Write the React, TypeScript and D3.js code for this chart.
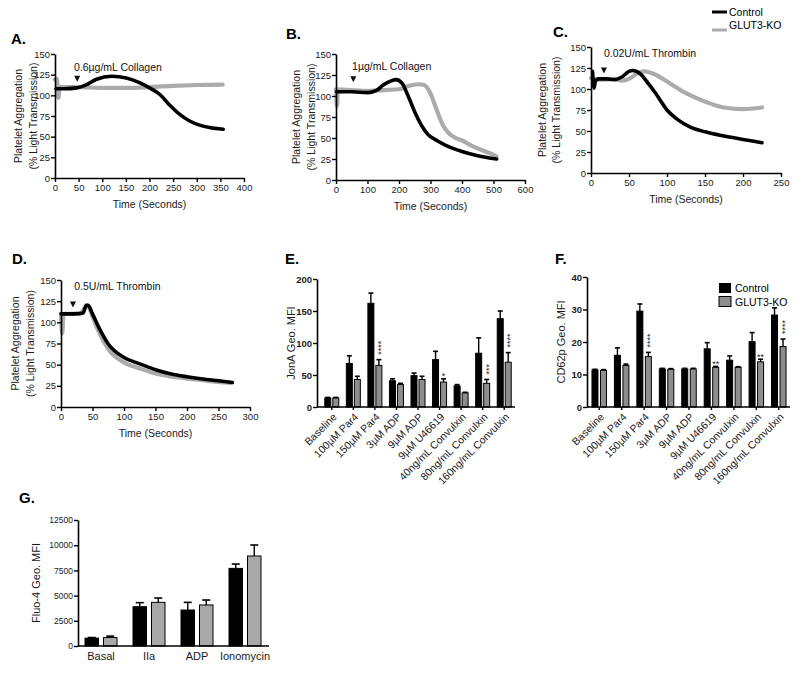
import React, { useEffect, useRef } from 'react';
import * as d3 from 'd3';

const FONT = "'Liberation Sans', Arial, Helvetica, sans-serif";
const LINE_GRAY = '#ababab';
const BAR_GRAY = '#8e8e8e';
const BAR_GRAY_G = '#a8a8a8';

type Pt = [number, number];

// aggregation traces: [seconds, % light transmission]
const aControl: Pt[] = [[2, 108], [20, 108], [46, 109], [67, 113], [88, 119.5], [120, 123], [151, 121], [180, 115], [200, 109], [222, 101], [243, 88], [264, 77], [285, 69], [306, 64], [327, 61], [356, 59]];
const aKO: Pt[] = [[0, 119], [4, 120], [7, 97], [10, 110], [50, 110], [100, 109], [150, 109], [200, 110], [250, 111.5], [300, 112.5], [355, 113]];

const bControl: Pt[] = [[2, 105], [50, 105], [100, 104], [130, 107], [150, 113], [175, 118], [190, 119.5], [210, 115], [230, 99], [250, 81], [270, 66], [290, 55], [320, 47], [350, 41], [400, 34], [450, 29], [510, 25]];
const bKO: Pt[] = [[0, 108], [3, 88], [6, 108], [50, 107], [100, 106], [150, 107], [200, 108], [230, 112], [260, 114], [280, 113], [300, 103], [320, 83], [340, 65], [360, 55], [380, 50], [400, 47], [430, 41], [460, 36], [500, 30], [510, 28]];

const cControl: Pt[] = [[2, 121], [4, 101], [6, 110], [10, 112], [20, 112], [30, 111], [40, 114], [50, 121], [55, 122], [65, 118], [75, 107], [85, 95], [100, 75], [115, 63], [130, 55], [150, 49], [175, 44], [200, 40], [225, 36]];
const cKO: Pt[] = [[0, 113], [10, 111], [30, 112], [40, 110], [50, 112], [60, 118], [70, 121], [85, 117], [100, 109], [125, 95], [150, 85], [175, 78], [200, 76], [225, 78]];

const dControl: Pt[] = [[0, 110], [20, 110], [35, 111], [40, 120], [43, 120], [50, 110], [60, 94], [75, 74.5], [100, 58.5], [125, 51], [150, 44], [175, 39], [200, 35.7], [225, 33], [250, 31], [272, 29]];
const dKO: Pt[] = [[0, 110], [2, 87], [4, 110], [30, 110], [38, 117], [42, 120], [50, 107], [60, 89], [75, 68.5], [100, 52.6], [125, 45.5], [150, 39.5], [175, 36], [200, 33.6], [225, 31.6], [250, 29.6], [270, 28.5]];

const agonistLabels = ['0.6µg/mL Collagen', '1µg/mL Collagen', '0.02U/mL Thrombin', '0.5U/mL Thrombin'];

// flow cytometry
const flowCategories = ['Baseline', '100µM Par4', '150µM Par4', '3µM ADP', '9µM ADP', '9µM U46619', '40ng/mL Convulxin', '80ng/mL Convulxin', '160ng/mL Convulxin'];
const jonAControl = [14, 68, 162, 41, 49, 74, 33, 84, 138];
const jonAControlErr = [1, 12, 16, 3, 4, 13, 2, 24, 12];
const jonAKO = [14, 43, 65, 35, 43, 39, 22, 37, 70];
const jonAKOErr = [1, 5, 9, 2, 5, 5, 1, 6, 15];
const jonAStars = ['', '', '****', '', '', '*', '', '***', '****'];

const cd62pControl = [11.4, 15.9, 29.5, 11.7, 11.7, 17.9, 14.4, 20.1, 28.3];
const cd62pControlErr = [0.2, 2.3, 2.2, 0.2, 0.2, 1.9, 1.3, 2.8, 2.2];
const cd62pKO = [11.3, 12.8, 15.5, 11.6, 11.7, 12.2, 12.2, 13.9, 18.6];
const cd62pKOErr = [0.2, 0.4, 1.3, 0.2, 0.2, 0.3, 0.2, 0.8, 2.3];
const cd62pStars = ['', '', '****', '', '', '**', '', '**', '****'];

const fluoCategories = ['Basal', 'IIa', 'ADP', 'Ionomycin'];
const fluoControl = [780, 3900, 3570, 7700];
const fluoControlErr = [60, 400, 760, 430];
const fluoKO = [840, 4330, 4070, 8930];
const fluoKOErr = [140, 430, 490, 1090];

const styleAxis = (g, size, bold = false) => {
  g.attr('font-family', FONT).attr('font-size', size);
  g.select('.domain').attr('stroke', '#000').attr('stroke-width', 1.6);
  g.selectAll('.tick line').attr('stroke', '#000').attr('stroke-width', 1.4);
  g.selectAll('.tick text').attr('fill', '#1a1a1a').attr('font-weight', bold ? 'bold' : 'normal');
};

const drawLinePanel = (svg, p) => {
  const x = d3.scaleLinear().domain([0, p.xMax]).range(p.xRange);
  const y = d3.scaleLinear().domain([0, 150]).range(p.yRange);
  const g = svg.append('g');

  const line = d3.line<Pt>().x(d => x(d[0])).y(d => y(d[1])).curve(d3.curveMonotoneX);
  g.append('path').datum(p.ko).attr('fill', 'none').attr('stroke', LINE_GRAY)
    .attr('stroke-width', 4.2).attr('stroke-linecap', 'round').attr('stroke-linejoin', 'round').attr('d', line);
  g.append('path').datum(p.control).attr('fill', 'none').attr('stroke', '#000')
    .attr('stroke-width', 3.6).attr('stroke-linecap', 'round').attr('stroke-linejoin', 'round').attr('d', line);

  const ya = g.append('g').attr('transform', `translate(${p.xRange[0]},0)`)
    .call(d3.axisLeft(y).tickValues(d3.range(0, 151, 25)).tickSize(4).tickSizeOuter(0).tickPadding(1));
  styleAxis(ya, 9.5);
  const xa = g.append('g').attr('transform', `translate(0,${p.yRange[0]})`)
    .call(d3.axisBottom(x).tickValues(d3.range(0, p.xMax + 1, p.xStep)).tickSize(4).tickSizeOuter(0).tickPadding(2));
  styleAxis(xa, 9.5);

  // addition arrow + agonist label
  const ax = x(p.arrow[0]), ay = y(p.arrow[1]);
  g.append('path').attr('d', `M${ax - 3},${ay - 3} L${ax + 3},${ay - 3} L${ax},${ay + 3} Z`).attr('fill', '#111');
  g.append('text').attr('x', x(p.note[0])).attr('y', y(p.note[1]))
    .attr('font-family', FONT).attr('font-size', 10.5).attr('fill', '#111').text(p.label);

  g.append('text').attr('x', p.letter[0]).attr('y', p.letter[1])
    .attr('font-family', FONT).attr('font-size', 15).attr('font-weight', 'bold').text(p.name);

  const cy = (p.yRange[0] + p.yRange[1]) / 2;
  ['Platelet Aggregation', '(% Light Transmission)'].forEach((t, i) => {
    g.append('text').attr('transform', `translate(${p.yLabelX[i]},${cy}) rotate(-90)`)
      .attr('text-anchor', 'middle').attr('dominant-baseline', 'central')
      .attr('font-family', FONT).attr('font-size', 10.5).attr('fill', '#1a1a1a').text(t);
  });
  g.append('text').attr('x', (p.xRange[0] + p.xRange[1]) / 2).attr('y', p.yRange[0] + 30)
    .attr('text-anchor', 'middle').attr('font-family', FONT).attr('font-size', 10.5).attr('fill', '#1a1a1a')
    .text('Time (Seconds)');
};

const drawBarPanel = (svg, p) => {
  const g = svg.append('g');
  const x = d3.scaleBand().domain(p.categories).range(p.xRange);
  const y = d3.scaleLinear().domain([0, p.yMax]).range(p.yRange);
  const c = d => x(d) + x.bandwidth() / 2;
  const series = [
    { vals: p.control, errs: p.controlErr, fill: '#000', off: -p.gap / 2 - p.barW },
    { vals: p.ko, errs: p.koErr, fill: p.gray, off: p.gap / 2 }
  ];
  series.forEach(s => {
    p.categories.forEach((cat, i) => {
      const bx = c(cat) + s.off;
      const mid = bx + p.barW / 2;
      g.append('line').attr('x1', mid).attr('x2', mid).attr('y1', y(s.vals[i])).attr('y2', y(s.vals[i] + s.errs[i]))
        .attr('stroke', '#000').attr('stroke-width', 1.4);
      g.append('line').attr('x1', mid - p.cap / 2).attr('x2', mid + p.cap / 2)
        .attr('y1', y(s.vals[i] + s.errs[i])).attr('y2', y(s.vals[i] + s.errs[i]))
        .attr('stroke', '#000').attr('stroke-width', 1.6);
      g.append('rect').attr('x', bx).attr('y', y(s.vals[i])).attr('width', p.barW)
        .attr('height', y(0) - y(s.vals[i])).attr('fill', s.fill).attr('stroke', '#000').attr('stroke-width', 1);
    });
  });

  if (p.stars) {
    p.stars.forEach((st, i) => {
      if (!st) return;
      const mid = c(p.categories[i]) + p.gap / 2 + p.barW / 2;
      const top = y(p.ko[i] + p.koErr[i]) - 5;
      if (st.length >= 3) {
        g.append('text').attr('transform', `translate(${mid},${top}) rotate(-90)`).attr('dy', '0.55em')
          .attr('font-family', FONT).attr('font-size', 9).attr('fill', '#222').text(st);
      } else {
        g.append('text').attr('x', mid).attr('y', top + 5.5).attr('text-anchor', 'middle')
          .attr('font-family', FONT).attr('font-size', 9).attr('fill', '#222').text(st);
      }
    });
  }

  const ya = g.append('g').attr('transform', `translate(${p.axisX},0)`)
    .call(d3.axisLeft(y).tickValues(p.yTicks).tickSize(4).tickSizeOuter(0).tickPadding(1).tickFormat(d3.format('d')));
  styleAxis(ya, p.yTickFont, p.boldTicks);
  g.append('line').attr('x1', p.axisX).attr('x2', p.xRange[1]).attr('y1', y(0)).attr('y2', y(0))
    .attr('stroke', '#000').attr('stroke-width', 1.6);

  const xa = g.append('g').attr('transform', `translate(0,${y(0)})`)
    .call(d3.axisBottom(x).tickSize(p.rotate ? 3 : 0).tickSizeOuter(0).tickPadding(6));
  styleAxis(xa, p.catFont);
  xa.select('.domain').remove();
  if (p.rotate) {
    xa.selectAll('.tick text').attr('x', 0).attr('y', 0).attr('dy', '0.35em')
      .attr('transform', 'translate(3,8) rotate(-45)').attr('text-anchor', 'end');
  }

  g.append('text').attr('x', p.letter[0]).attr('y', p.letter[1])
    .attr('font-family', FONT).attr('font-size', 15).attr('font-weight', 'bold').text(p.name);
  g.append('text').attr('transform', `translate(${p.yLabelX},${(p.yRange[0] + p.yRange[1]) / 2}) rotate(-90)`)
    .attr('text-anchor', 'middle').attr('dominant-baseline', 'central')
    .attr('font-family', FONT).attr('font-size', 11).attr('fill', '#1a1a1a').text(p.yLabel);
};

const App = () => {
  const svgRef = useRef(null);

  useEffect(() => {
    const svg = d3.select(svgRef.current);
    svg.selectAll('*').remove();

    drawLinePanel(svg, { name: 'A.', letter: [11, 44], xMax: 400, xStep: 50, xRange: [55, 244], yRange: [178, 54],
      control: aControl, ko: aKO, label: agonistLabels[0], arrow: [47, 120], note: [40, 129], yLabelX: [18, 33] });
    drawLinePanel(svg, { name: 'B.', letter: [286, 39], xMax: 600, xStep: 100, xRange: [336, 525], yRange: [180, 54],
      control: bControl, ko: bKO, label: agonistLabels[1], arrow: [55, 120], note: [51, 131], yLabelX: [296, 311] });
    drawLinePanel(svg, { name: 'C.', letter: [553, 37], xMax: 250, xStep: 50, xRange: [591, 781], yRange: [173, 47],
      control: cControl, ko: cKO, label: agonistLabels[2], arrow: [17, 122], note: [17, 138], yLabelX: [542, 556] });
    drawLinePanel(svg, { name: 'D.', letter: [12, 264], xMax: 300, xStep: 50, xRange: [61, 250], yRange: [407, 280],
      control: dControl, ko: dKO, label: agonistLabels[3], arrow: [19, 121], note: [21, 138], yLabelX: [15, 30] });

    // legend for the traces
    const lg = svg.append('g').attr('font-family', FONT).attr('font-size', 10.5);
    lg.append('line').attr('x1', 712).attr('x2', 727).attr('y1', 12).attr('y2', 12).attr('stroke', '#000').attr('stroke-width', 3);
    lg.append('text').attr('x', 729).attr('y', 12).attr('dominant-baseline', 'central').text('Control');
    lg.append('line').attr('x1', 712).attr('x2', 727).attr('y1', 30).attr('y2', 30).attr('stroke', LINE_GRAY).attr('stroke-width', 3);
    lg.append('text').attr('x', 729).attr('y', 25).attr('dominant-baseline', 'central').text('GLUT3-KO');

    drawBarPanel(svg, { name: 'E.', letter: [285, 264], categories: flowCategories, xRange: [321, 515], axisX: 317,
      yMax: 200, yRange: [407, 279], yTicks: [0, 50, 100, 150, 200], control: jonAControl, controlErr: jonAControlErr,
      ko: jonAKO, koErr: jonAKOErr, stars: jonAStars, gray: BAR_GRAY, barW: 6, gap: 2, cap: 5, rotate: true,
      yTickFont: 9.5, boldTicks: true, catFont: 10.5, yLabel: 'JonA Geo. MFI', yLabelX: 291 });
    drawBarPanel(svg, { name: 'F.', letter: [555, 264], categories: flowCategories, xRange: [588, 790], axisX: 587,
      yMax: 40, yRange: [407, 277], yTicks: [0, 10, 20, 30, 40], control: cd62pControl, controlErr: cd62pControlErr,
      ko: cd62pKO, koErr: cd62pKOErr, stars: cd62pStars, gray: BAR_GRAY, barW: 6, gap: 2.5, cap: 5, rotate: true,
      yTickFont: 9.5, boldTicks: true, catFont: 10.5, yLabel: 'CD62p Geo. MFI', yLabelX: 561 });

    const fl = svg.append('g').attr('font-family', FONT).attr('font-size', 10.5);
    fl.append('rect').attr('x', 719).attr('y', 283).attr('width', 12).attr('height', 10).attr('fill', '#000');
    fl.append('text').attr('x', 735).attr('y', 288).attr('dominant-baseline', 'central').text('Control');
    fl.append('rect').attr('x', 719).attr('y', 296.5).attr('width', 12).attr('height', 10).attr('fill', BAR_GRAY).attr('stroke', '#000');
    fl.append('text').attr('x', 735).attr('y', 301.5).attr('dominant-baseline', 'central').text('GLUT3-KO');

    drawBarPanel(svg, { name: 'G.', letter: [19, 503], categories: fluoCategories, xRange: [77, 269], axisX: 78,
      yMax: 12500, yRange: [646, 520], yTicks: [0, 2500, 5000, 7500, 10000, 12500], control: fluoControl,
      controlErr: fluoControlErr, ko: fluoKO, koErr: fluoKOErr, gray: BAR_GRAY_G, barW: 13.5, gap: 5, cap: 8,
      rotate: false, yTickFont: 8.5, boldTicks: false, catFont: 11, yLabel: 'Fluo-4 Geo. MFI', yLabelX: 36 });
  }, []);

  return (
    <div style={{ position: 'absolute', left: 0, top: 0 }}>
      <svg ref={svgRef} width={800} height={676} style={{ display: 'block', background: '#fff' }} />
    </div>
  );
};

export default App;
